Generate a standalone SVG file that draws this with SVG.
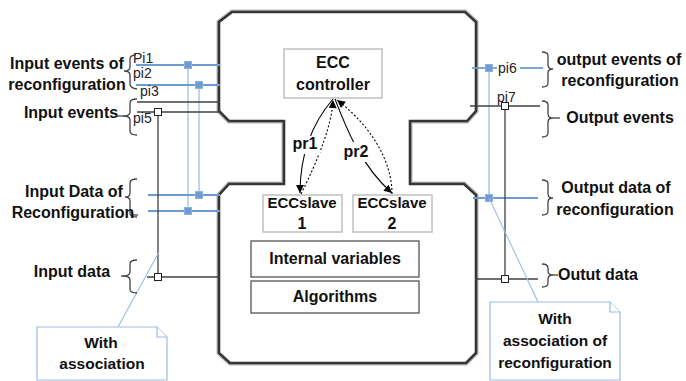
<svg xmlns="http://www.w3.org/2000/svg" width="686" height="381" viewBox="0 0 686 381">
<style>
.b{font-family:"Liberation Sans",Arial,sans-serif;font-weight:bold;font-size:16px;fill:#111;text-anchor:middle}
.n{font-family:"Liberation Sans",Arial,sans-serif;font-size:14px;fill:#222}
.blue{stroke:#6f9bd3;stroke-width:1.8;fill:none}
.bluev{stroke:#9ebde6;stroke-width:1.3;fill:none}
.blk{stroke:#404040;stroke-width:1.3;fill:none}
.sq{fill:#6f9bd3;stroke:#8fb0de;stroke-width:1}
.wsq{fill:#fff;stroke:#222;stroke-width:1}
.brace{fill:none;stroke:#444;stroke-width:1.3}
.box{fill:#fff;stroke:#c4c4c4;stroke-width:1.6}
.box2{fill:#fff;stroke:#555;stroke-width:1.3}
.note{fill:#fff;stroke:#9dbbe3;stroke-width:1.2}
</style>
<defs>
<marker id="ah" viewBox="0 0 10 10" refX="10" refY="5" markerWidth="9" markerHeight="8" markerUnits="userSpaceOnUse" orient="auto"><path d="M0,0 L10,5 L0,10 z" fill="#000"/></marker>
</defs>

<g id="block">
<path d="M232 12 L465 12 L476 22 L476 111 L467 121 L410 121 L410 184 L464 184 L476 195 L476 353 L466 363 L230 363 L219 353 L219 195 L229 184 L284 184 L284 121 L229 121 L219 111 L219 22 Z" fill="#fff" stroke="#b5b5b5" stroke-width="5"/>
<path d="M232 12 L465 12 L476 22 L476 111 L467 121 L410 121 L410 184 L464 184 L476 195 L476 353 L466 363 L230 363 L219 353 L219 195 L229 184 L284 184 L284 121 L229 121 L219 111 L219 22 Z" fill="#fff" stroke="#353535" stroke-width="2.6"/>
</g>

<g id="ecc-controller">
<rect class="box" x="284" y="49" width="98" height="49"/>
<text class="b" x="333" y="68">ECC</text>
<text class="b" x="333" y="90">controller</text>
</g>
<g id="ecc-slave1">
<rect class="box" x="263" y="195" width="79" height="37"/>
<text class="b" x="302" y="208" style="font-size:15px">ECCslave</text>
<text class="b" x="302" y="229">1</text>
</g>
<g id="ecc-slave2">
<rect class="box" x="353" y="195" width="79" height="37"/>
<text class="b" x="392" y="208" style="font-size:15px">ECCslave</text>
<text class="b" x="392" y="229">2</text>
</g>
<g id="internal-variables">
<rect class="box2" x="251" y="241" width="168" height="36"/>
<text class="b" x="335" y="264">Internal variables</text>
</g>
<g id="algorithms">
<rect class="box2" x="251" y="281" width="168" height="32"/>
<text class="b" x="335" y="302">Algorithms</text>
</g>

<g id="connectors">
<path d="M333 99 C315 120 300 150 300 193" stroke="#000" stroke-width="1.1" fill="none" marker-end="url(#ah)"/>
<path d="M301 194 C318 160 332 125 333 100" stroke="#000" stroke-width="1.1" stroke-dasharray="2 2" fill="none" marker-end="url(#ah)"/>
<path d="M335 99 C345 125 360 165 392 193" stroke="#000" stroke-width="1.1" fill="none" marker-end="url(#ah)"/>
<path d="M392 194 C392 160 370 125 337 100" stroke="#000" stroke-width="1.1" stroke-dasharray="2 2" fill="none" marker-end="url(#ah)"/>
<rect x="291" y="136" width="29" height="18" fill="#fff"/>
<rect x="341" y="142" width="30" height="20" fill="#fff"/>
<text class="b" x="305" y="149">pr1</text>
<text class="b" x="356" y="157">pr2</text>

<!-- left side -->
<line class="bluev" x1="188" y1="65" x2="188" y2="211"/>
<line class="bluev" x1="199" y1="85" x2="199" y2="195"/>
<line class="blue" x1="136" y1="65" x2="220" y2="65"/>
<line class="blue" x1="136" y1="85" x2="220" y2="85"/>
<line class="blue" x1="148" y1="195" x2="220" y2="195"/>
<line class="blue" x1="148" y1="211" x2="220" y2="211"/>
<rect class="sq" x="184.5" y="61.5" width="7" height="7"/>
<rect class="sq" x="195.5" y="81.5" width="7" height="7"/>
<rect class="sq" x="195.5" y="191.5" width="7" height="7"/>
<rect class="sq" x="184.5" y="207.5" width="7" height="7"/>
<line class="blk" x1="137" y1="102" x2="220" y2="102"/>
<line class="blk" x1="137" y1="112" x2="220" y2="112"/>
<line class="blk" x1="158" y1="112" x2="158" y2="277"/>
<line class="blk" x1="147" y1="277" x2="220" y2="277"/>
<rect class="wsq" x="154.5" y="108.5" width="7" height="7"/>
<rect class="wsq" x="154.5" y="273.5" width="7" height="7"/>

<!-- right side -->
<line class="bluev" x1="489" y1="68" x2="489" y2="198"/>
<line class="blue" x1="472" y1="68" x2="497" y2="68"/>
<line class="blue" x1="520" y1="68" x2="543" y2="68"/>
<line class="blue" x1="473" y1="198" x2="538" y2="198"/>
<rect class="sq" x="485.5" y="64.5" width="7" height="7"/>
<rect class="sq" x="485.5" y="194.5" width="7" height="7"/>
<line class="blk" x1="470" y1="106" x2="540" y2="106"/>
<line class="blk" x1="505" y1="106" x2="505" y2="279"/>
<line class="blk" x1="475" y1="279" x2="538" y2="279"/>
<rect class="wsq" x="501.5" y="102.5" width="7" height="7"/>
<rect class="wsq" x="501.5" y="275.5" width="7" height="7"/>

<!-- callout pointers -->
<line stroke="#9dbbe3" stroke-width="1.1" x1="159" y1="252" x2="118" y2="327"/>
<line stroke="#9dbbe3" stroke-width="1.1" x1="489" y1="198" x2="538" y2="302"/>
</g>

<g id="port-labels">
<text class="n" x="133" y="63">Pi1</text>
<text class="n" x="133" y="78">pi2</text>
<text class="n" x="140" y="96">pi3</text>
<text class="n" x="133" y="123">pi5</text>
<text class="n" x="498" y="73">pi6</text>
<text class="n" x="497" y="102">pi7</text>
</g>

<g id="braces">
<path class="brace" d="M136 55 Q130 55 130 59 L130 67 Q130 71 124 71 Q130 71 130 75 L130 84 Q130 88 137 89"/>
<path class="brace" d="M137 99 Q130 99 130 103 L130 112 Q130 116 123 116 Q130 116 130 120 L130 131 Q130 135 137 135"/>
<line class="brace" x1="117" y1="116" x2="124" y2="116"/>
<path class="brace" d="M137 179 Q130 179 130 183 L130 193 Q130 197 125 197 Q130 197 130 201 L130 213 Q130 217 137 217"/>
<line class="brace" x1="133" y1="215" x2="138" y2="215"/>
<path class="brace" d="M137 260 Q130 260 130 264 L130 272 Q130 276 123 276 Q130 276 130 280 L130 289 Q130 293 137 293"/>
<line class="brace" x1="121" y1="276" x2="124" y2="276"/>
<path class="brace" d="M542 52 Q548 52 548 56 L548 65 Q548 69 553 69 Q548 69 548 73 L548 83 Q548 87 542 87"/>
<path class="brace" d="M542 101 Q548 101 548 105 L548 114 Q548 118 553 118 Q548 118 548 122 L548 133 Q548 137 542 137"/>
<line class="brace" x1="553" y1="118" x2="560" y2="118"/>
<path class="brace" d="M542 180 Q548 180 548 184 L548 194 Q548 198 553 198 Q548 198 548 202 L548 211 Q548 215 542 215"/>
<path class="brace" d="M542 264 Q548 264 548 268 L548 271 Q548 275 553 275 Q548 275 548 279 L548 283 Q548 287 542 287"/>
<line class="brace" x1="553" y1="275" x2="558" y2="275"/>
</g>

<g id="side-labels">
<text class="b" x="67" y="69">Input events of</text>
<text class="b" x="67" y="90">reconfiguration</text>
<text class="b" x="71" y="118">Input events</text>
<text class="b" x="74" y="197">Input Data of</text>
<text class="b" x="73" y="218">Reconfiguration</text>
<text class="b" x="72" y="277">Input data</text>
<text class="b" x="619" y="65">output events of</text>
<text class="b" x="620" y="86">reconfiguration</text>
<text class="b" x="620" y="123">Output events</text>
<text class="b" x="616" y="193">Output data of</text>
<text class="b" x="615" y="215">reconfiguration</text>
<text class="b" x="558" y="280" style="text-anchor:start">Outut data</text>
</g>

<g id="note-left">
<path class="note" d="M37 327 L157 327 L167 337 L167 380 L37 380 Z"/>
<path class="note" d="M157 327 L157 337 L167 337" fill="none"/>
<text class="b" x="101" y="348" style="font-size:15.5px">With</text>
<text class="b" x="102" y="369" style="font-size:15.5px">association</text>
</g>
<g id="note-right">
<path class="note" d="M490 302 L610 302 L620 312 L620 380 L490 380 Z"/>
<path class="note" d="M610 302 L610 312 L620 312" fill="none"/>
<text class="b" x="555" y="324" style="font-size:15.5px">With</text>
<text class="b" x="555" y="346" style="font-size:15.5px">association of</text>
<text class="b" x="555" y="368" style="font-size:15.5px">reconfiguration</text>
</g>
</svg>
